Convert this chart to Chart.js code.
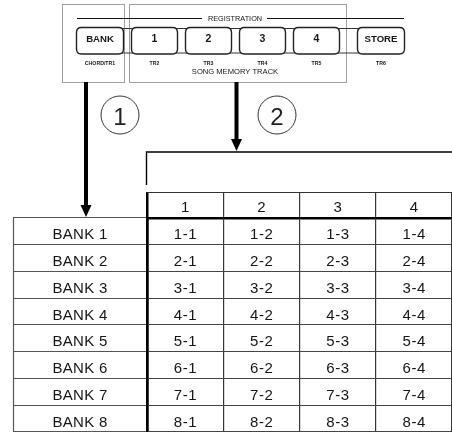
<!DOCTYPE html>
<html>
<head>
<meta charset="utf-8">
<script src="https://cdn.jsdelivr.net/npm/chart.js@4.4.1/dist/chart.umd.min.js"></script>
<style>
  html, body { margin: 0; padding: 0; background: #fff; }
  #wrap { width: 452px; height: 432px; position: relative; }
</style>
</head>
<body>
<div id="wrap"><canvas id="memoryChart"></canvas></div>
<script>
// Table contents
const columns = ['1', '2', '3', '4'];
const banks = ['BANK 1', 'BANK 2', 'BANK 3', 'BANK 4', 'BANK 5', 'BANK 6', 'BANK 7', 'BANK 8'];
const bank1Cells = ['1-1', '1-2', '1-3', '1-4'];
const bank2Cells = ['2-1', '2-2', '2-3', '2-4'];
const bank3Cells = ['3-1', '3-2', '3-3', '3-4'];
const bank4Cells = ['4-1', '4-2', '4-3', '4-4'];
const bank5Cells = ['5-1', '5-2', '5-3', '5-4'];
const bank6Cells = ['6-1', '6-2', '6-3', '6-4'];
const bank7Cells = ['7-1', '7-2', '7-3', '7-4'];
const bank8Cells = ['8-1', '8-2', '8-3', '8-4'];
const cellRows = [bank1Cells, bank2Cells, bank3Cells, bank4Cells, bank5Cells, bank6Cells, bank7Cells, bank8Cells];

// Panel labels
const buttonLabels = ['BANK', '1', '2', '3', '4', 'STORE'];
const trackLabels = ['CHORD/TR1', 'TR2', 'TR3', 'TR4', 'TR5', 'TR6'];
const stepNumbers = ['1', '2'];
const groupTitle = 'REGISTRATION';
const trackTitle = 'SONG MEMORY TRACK';

const FONT = "'Liberation Sans', Arial, Helvetica, sans-serif";
const INK = '#151515';

function roundRect(ctx, x, y, w, h, r) {
    ctx.beginPath();
    ctx.moveTo(x + r, y);
    ctx.lineTo(x + w - r, y);
    ctx.quadraticCurveTo(x + w, y, x + w, y + r);
    ctx.lineTo(x + w, y + h - r);
    ctx.quadraticCurveTo(x + w, y + h, x + w - r, y + h);
    ctx.lineTo(x + r, y + h);
    ctx.quadraticCurveTo(x, y + h, x, y + h - r);
    ctx.lineTo(x, y + r);
    ctx.quadraticCurveTo(x, y, x + r, y);
    ctx.closePath();
}

function arrowDown(ctx, x, y1, y2) {
    ctx.fillStyle = '#000';
    ctx.fillRect(x - 2, y1, 4, y2 - y1 - 10);
    ctx.beginPath();
    ctx.moveTo(x - 5.5, y2 - 12);
    ctx.lineTo(x + 5.5, y2 - 12);
    ctx.lineTo(x, y2);
    ctx.closePath();
    ctx.fill();
}

// Draws the front panel sketch above the table
const panelPlugin = {
    id: 'panel',
    afterDraw(chart) {
        const ctx = chart.ctx;
        const xScale = chart.scales.x;
        ctx.save();

        // grey group boxes
        ctx.strokeStyle = '#a0a0a0';
        ctx.lineWidth = 1;
        ctx.strokeRect(62.5, 4.5, 62, 78);
        ctx.strokeRect(129.5, 4.5, 217, 78);

        // registration rule with title
        ctx.strokeStyle = '#111';
        ctx.lineWidth = 1.2;
        ctx.beginPath();
        ctx.moveTo(77, 18.5);
        ctx.lineTo(202, 18.5);
        ctx.moveTo(267, 18.5);
        ctx.lineTo(404, 18.5);
        ctx.stroke();
        ctx.fillStyle = INK;
        ctx.font = '7.3px ' + FONT;
        ctx.textAlign = 'center';
        ctx.textBaseline = 'alphabetic';
        ctx.fillText(groupTitle, 235, 21.2);

        // button strip
        ctx.strokeStyle = '#333';
        ctx.lineWidth = 1;
        ctx.strokeRect(80.5, 28.5, 320, 24.5);

        const btnX = [76, 131, 185, 239, 293, 357];
        const btnW = [47, 46, 46, 46, 46, 47];
        buttonLabels.forEach((label, i) => {
            ctx.fillStyle = '#fff';
            roundRect(ctx, btnX[i] + 0.5, 27.5, btnW[i], 26.5, 5);
            ctx.fill();
            ctx.strokeStyle = '#222';
            ctx.lineWidth = 1.4;
            ctx.stroke();
            ctx.fillStyle = INK;
            ctx.font = (i === 0 || i === 5 ? 'bold 9.6px ' : 'bold 10.5px ') + FONT;
            ctx.fillText(label, btnX[i] + btnW[i] / 2 + 0.5, 41.6);
            ctx.font = 'bold 5.2px ' + FONT;
            ctx.fillText(trackLabels[i], btnX[i] + btnW[i] / 2 + 0.5, 64.5);
        });
        ctx.font = '7.6px ' + FONT;
        ctx.fillText(trackTitle, 235, 74);

        // arrows
        arrowDown(ctx, 86, 82, 217);
        arrowDown(ctx, 236.5, 82, 151);

        // step circles
        const circleX = [120, 277];
        stepNumbers.forEach((n, i) => {
            ctx.beginPath();
            ctx.arc(circleX[i], 115, 19, 0, Math.PI * 2);
            ctx.strokeStyle = '#333';
            ctx.lineWidth = 1;
            ctx.stroke();
            ctx.fillStyle = '#222';
            ctx.font = '24px ' + FONT;
            ctx.fillText(n, circleX[i], 124.5);
        });

        // bracket frame above the column headings
        ctx.strokeStyle = '#000';
        ctx.lineWidth = 1.4;
        ctx.beginPath();
        ctx.moveTo(xScale.left - 0.5, 185);
        ctx.lineTo(xScale.left - 0.5, 152);
        ctx.lineTo(chart.width, 152);
        ctx.stroke();

        ctx.restore();
    }
};

// Writes the table text through the scales
const tablePlugin = {
    id: 'tableText',
    afterDraw(chart) {
        const ctx = chart.ctx;
        const xScale = chart.scales.x;
        const yScale = chart.scales.y;
        ctx.save();

        // header top rule and left border of the bank column
        ctx.strokeStyle = '#333';
        ctx.lineWidth = 1.2;
        ctx.beginPath();
        ctx.moveTo(xScale.left, xScale.top + 0.5);
        ctx.lineTo(xScale.right, xScale.top + 0.5);
        ctx.stroke();
        ctx.strokeStyle = '#555';
        ctx.lineWidth = 1.2;
        ctx.beginPath();
        ctx.moveTo(yScale.left + 0.5, yScale.top);
        ctx.lineTo(yScale.left + 0.5, yScale.bottom);
        ctx.stroke();

        ctx.fillStyle = INK;
        ctx.textAlign = 'center';
        ctx.textBaseline = 'alphabetic';
        ctx.font = '15px ' + FONT;

        const headMid = (xScale.top + xScale.bottom) / 2;
        columns.forEach((c, k) => {
            ctx.fillText(c, xScale.getPixelForValue(k), headMid + 7.4);
        });

        const bankMid = (yScale.left + yScale.right) / 2;
        ctx.letterSpacing = '0.3px';
        banks.forEach((b, r) => {
            ctx.fillText(b, bankMid, yScale.getPixelForValue(r) + 8);
        });

        ctx.letterSpacing = '0.7px';
        const meta = chart.getDatasetMeta(0);
        meta.data.forEach((pt, i) => {
            const raw = chart.data.datasets[0].data[i];
            ctx.fillText(raw.text, pt.x + 0.4, pt.y + 8);
        });
        ctx.restore();
    }
};

const points = [];
banks.forEach((b, r) => {
    columns.forEach((c, k) => {
        points.push({ x: c, y: b, text: cellRows[r][k] });
    });
});

new Chart(document.getElementById('memoryChart'), {
    type: 'scatter',
    data: {
        datasets: [{
            data: points,
            pointRadius: 0,
            pointHoverRadius: 0,
        }],
    },
    options: {
        responsive: true,
        maintainAspectRatio: false,
        animation: false,
        events: [],
        layout: { padding: { top: 192, left: 13, right: -3, bottom: 0 } },
        plugins: {
            legend: { display: false },
            tooltip: { enabled: false },
        },
        scales: {
            x: {
                type: 'category',
                labels: columns,
                position: 'top',
                offset: true,
                afterFit: (scale) => { scale.height = 26; },
                ticks: { display: false },
                grid: {
                    offset: true,
                    drawTicks: true,
                    tickLength: 26,
                    color: (ctx) => ctx.index === 0 ? '#000' : '#383838',
                    tickColor: (ctx) => ctx.index === 0 ? '#000' : '#383838',
                    lineWidth: (ctx) => ctx.index === 0 ? 2.5 : 1.2,
                    tickWidth: (ctx) => ctx.index === 0 ? 2.5 : 1.2,
                },
                border: { display: true, color: '#000', width: 2.5 },
            },
            y: {
                type: 'category',
                labels: banks,
                position: 'left',
                offset: true,
                afterFit: (scale) => { scale.width = 134; },
                ticks: { display: false },
                grid: {
                    offset: true,
                    drawTicks: true,
                    tickLength: 134,
                    color: '#444',
                    tickColor: '#555',
                    lineWidth: 1.1,
                },
                border: { display: true, color: '#000', width: 2.5 },
            },
        },
    },
    plugins: [tablePlugin, panelPlugin],
});
</script>
</body>
</html>
